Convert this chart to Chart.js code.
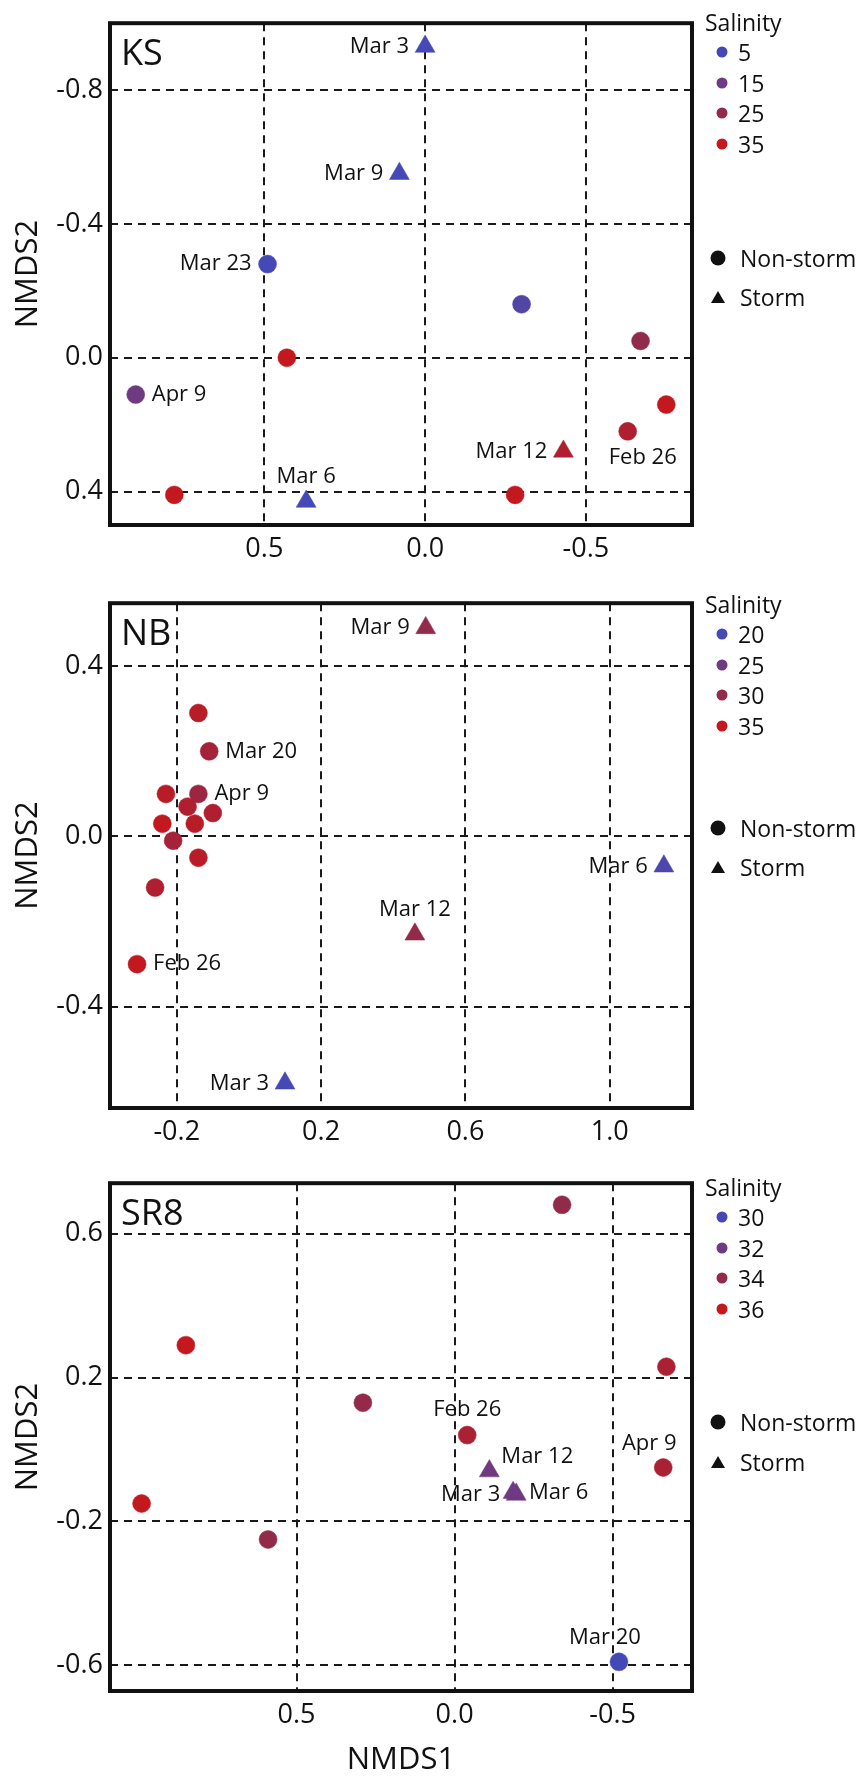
<!DOCTYPE html>
<html>
<head>
<meta charset="utf-8">
<title>NMDS - KS, NB, SR8</title>
<script src="https://cdn.jsdelivr.net/npm/chart.js@4.4.1/dist/chart.umd.min.js"></script>
<style>
  html, body { margin: 0; padding: 0; background: #fff; }
  #page { position: relative; width: 861px; height: 1779px; font-family: "Open Sans", sans-serif; color: #111; }
  .panel { position: absolute; left: 0; width: 861px; }
  .panel canvas { position: absolute; left: 0; top: 0; }
  .row { position: absolute; white-space: nowrap; font-size: 23px; line-height: 1; transform: translateY(-50%); }
  .dot { position: absolute; width: 11px; height: 11px; border-radius: 50%; transform: translate(-50%, -50%); }
  .sym { position: absolute; transform: translate(-50%, -50%); }
</style>
</head>
<body>
<div id="page">
  <div class="panel" id="ks-panel" style="top:0px;height:580px"><canvas id="ks" width="861" height="580"></canvas></div>
  <div class="panel" id="nb-panel" style="top:580px;height:580px"><canvas id="nb" width="861" height="580"></canvas></div>
  <div class="panel" id="sr-panel" style="top:1160px;height:619px"><canvas id="sr" width="861" height="619"></canvas></div>
</div>
<script>
// ---- KS ----
const ksDates    = ['Mar 3', 'Mar 9', 'Mar 23', '', '', 'Apr 9', 'Mar 12', 'Mar 6', '', '', '', '', 'Feb 26'];
const ksX        = [0.00, 0.08, 0.49, -0.30, 0.43, 0.90, -0.43, 0.37, 0.78, -0.28, -0.67, -0.75, -0.63];
const ksY        = [-0.93, -0.55, -0.28, -0.16, 0.00, 0.11, 0.28, 0.43, 0.41, 0.41, -0.05, 0.14, 0.22];
const ksSalinity = [5, 5, 5, 8, 35, 15, 31, 5, 35, 35, 25, 35, 31];
const ksStorm    = [1, 1, 0, 0, 0, 0, 1, 1, 0, 0, 0, 0, 0];
const ksLegend   = [5, 15, 25, 35];
const ksXTicks   = [0.5, 0.0, -0.5];
const ksYTicks   = [-0.8, -0.4, 0.0, 0.4];

// ---- NB ----
const nbDates    = ['Mar 9', '', 'Mar 20', 'Apr 9', '', '', '', '', '', '', '', '', 'Feb 26', 'Mar 12', 'Mar 3', 'Mar 6'];
const nbX        = [0.49, -0.14, -0.11, -0.14, -0.23, -0.17, -0.10, -0.15, -0.24, -0.21, -0.14, -0.26, -0.31, 0.46, 0.10, 1.15];
const nbY        = [0.49, 0.29, 0.20, 0.10, 0.10, 0.07, 0.055, 0.03, 0.03, -0.01, -0.05, -0.12, -0.30, -0.23, -0.58, -0.07];
const nbSalinity = [30, 34, 32, 31, 34, 33, 33, 34, 35, 32, 34, 33, 35, 30, 20, 21];
const nbStorm    = [1, 0, 0, 0, 0, 0, 0, 0, 0, 0, 0, 0, 0, 1, 1, 1];
const nbLegend   = [20, 25, 30, 35];
const nbXTicks   = [-0.2, 0.2, 0.6, 1.0];
const nbYTicks   = [0.4, 0.0, -0.4];

// ---- SR8 ----
const srDates    = ['', '', 'Feb 26', 'Mar 12', 'Mar 3', 'Mar 6', 'Apr 9', '', '', '', '', 'Mar 20'];
const srX        = [-0.34, -0.67, -0.04, -0.11, -0.195, -0.185, -0.66, 0.85, 0.29, 0.99, 0.59, -0.52];
const srY        = [0.68, 0.23, 0.04, -0.06, -0.125, -0.12, -0.05, 0.29, 0.13, -0.15, -0.25, -0.59];
const srSalinity = [34, 35, 35, 32, 32, 32, 35, 36, 34, 36, 34, 30];
const srStorm    = [0, 0, 0, 1, 1, 1, 0, 0, 0, 0, 0, 0];
const srLegend   = [30, 32, 34, 36];
const srXTicks   = [0.5, 0.0, -0.5];
const srYTicks   = [0.6, 0.2, -0.2, -0.6];

// label placement next to each point (style only)
const ksSides = ['left', 'left', 'left', '', '', 'right', 'left', 'above', '', '', '', '', 'belowRight'];
const nbSides = ['left', '', 'right', 'right', '', '', '', '', '', '', '', '', 'right', 'above', 'left', 'left'];
const srSides = ['', '', 'above', 'upRight', 'left', 'right', 'aboveLeft', '', '', '', '', 'aboveLeft'];

const stopColors = ['#4549b5', '#6e3a82', '#922a4a', '#c2181e'];
const FONT = '"Open Sans", sans-serif';

function hexToRgb(h) {
  return [1, 3, 5].map(i => parseInt(h.substr(i, 2), 16));
}

/**
 * Colore del punto interpolato tra i colori della legenda
 */
function salinityColor(s, stops) {
  if (s <= stops[0]) return stopColors[0];
  for (let i = 1; i < stops.length; i++) {
    if (s <= stops[i]) {
      const t = (s - stops[i - 1]) / (stops[i] - stops[i - 1]);
      const a = hexToRgb(stopColors[i - 1]);
      const b = hexToRgb(stopColors[i]);
      const c = a.map((v, k) => Math.round(v + (b[k] - v) * t));
      return `rgb(${c[0]}, ${c[1]}, ${c[2]})`;
    }
  }
  return stopColors[stopColors.length - 1];
}

function labelSpot(side, px, py) {
  switch (side) {
    case 'left': return { x: px - 16, y: py, align: 'right' };
    case 'right': return { x: px + 16, y: py, align: 'left' };
    case 'above': return { x: px, y: py - 25, align: 'center' };
    case 'aboveLeft': return { x: px - 14, y: py - 24, align: 'center' };
    case 'belowRight': return { x: px + 15, y: py + 26, align: 'center' };
    case 'upRight': return { x: px + 12, y: py - 14, align: 'left' };
  }
  return null;
}

/**
 * Legenda HTML a destra del riquadro
 */
function buildLegend(panelId, values, frameTop, shapeRows) {
  const panel = document.getElementById(panelId);
  const add = (html) => panel.insertAdjacentHTML('beforeend', html);
  add(`<div class="row" style="left:705px;top:${frameTop + 12}px">Salinity</div>`);
  values.forEach((v, i) => {
    const y = frameTop + 42 + 30.5 * i;
    add(`<div class="dot" style="left:722px;top:${y}px;background:${stopColors[i]}"></div>`);
    add(`<div class="row" style="left:738px;top:${y}px">${v}</div>`);
  });
  add(`<svg class="sym" width="16" height="16" style="left:718px;top:${frameTop + shapeRows[0]}px"><circle cx="8" cy="8" r="7.5" fill="#111"/></svg>`);
  add(`<div class="row" style="left:740px;top:${frameTop + shapeRows[0]}px">Non-storm</div>`);
  add(`<svg class="sym" width="16" height="14" style="left:718px;top:${frameTop + shapeRows[1]}px"><polygon points="8,1 15,13 1,13" fill="#111"/></svg>`);
  add(`<div class="row" style="left:740px;top:${frameTop + shapeRows[1]}px">Storm</div>`);
}

/**
 * Crea uno dei tre pannelli NMDS
 */
function renderPanel(p) {
  const ctx = document.getElementById(p.canvasId).getContext('2d');
  const colors = p.sal.map(s => salinityColor(s, p.stops));

  const panelPlugin = {
    id: 'panelDecor_' + p.canvasId,
    afterDatasetsDraw(chart) {
      const c = chart.ctx;
      const meta = chart.getDatasetMeta(0);
      c.save();
      c.fillStyle = '#111';
      c.font = `22px ${FONT}`;
      c.textBaseline = 'middle';
      meta.data.forEach((pt, i) => {
        if (!p.dates[i]) return;
        const spot = labelSpot(p.sides[i], pt.x, pt.y);
        if (!spot) return;
        c.textAlign = spot.align;
        c.fillText(p.dates[i], spot.x, spot.y);
      });
      c.restore();
    },
    afterDraw(chart) {
      const c = chart.ctx;
      const a = chart.chartArea;
      c.save();
      c.strokeStyle = '#111';
      c.lineWidth = 4;
      c.strokeRect(a.left, a.top, a.right - a.left, a.bottom - a.top);
      c.fillStyle = '#111';
      c.font = `36px ${FONT}`;
      c.textAlign = 'left';
      c.textBaseline = 'alphabetic';
      c.fillText(p.name, a.left + 11, a.top + 42);
      c.restore();
    }
  };

  const tickFont = { family: FONT, size: 27 };

  return new Chart(ctx, {
    type: 'scatter',
    data: {
      datasets: [{
        data: p.xs.map((x, i) => ({ x: x, y: p.ys[i] })),
        pointStyle: p.storm.map(s => (s ? 'triangle' : 'circle')),
        pointRadius: p.storm.map(s => (s ? 11.5 : 9)),
        pointBackgroundColor: colors,
        pointBorderColor: colors,
        pointBorderWidth: 0.5,
        clip: false
      }]
    },
    options: {
      responsive: false,
      animation: false,
      layout: { padding: { top: p.padTop, right: 169, left: 0, bottom: 0 } },
      plugins: {
        legend: { display: false },
        tooltip: { enabled: false }
      },
      scales: {
        x: {
          type: 'linear',
          min: p.xMin,
          max: p.xMax,
          reverse: p.xRev,
          afterBuildTicks: axis => { axis.ticks = p.xTicks.map(v => ({ value: v })); },
          afterFit: s => { s.height = p.axisHeight; },
          grid: { color: '#1a1a1a', lineWidth: 2, drawTicks: false },
          border: { display: false, dash: [8, 6] },
          ticks: {
            color: '#111',
            font: tickFont,
            padding: 8,
            autoSkip: false,
            maxRotation: 0,
            callback: v => v.toFixed(1)
          },
          title: {
            display: !!p.xTitle,
            text: p.xTitle || '',
            color: '#111',
            font: { family: FONT, size: 31 },
            padding: { top: 0, bottom: 0 }
          }
        },
        y: {
          type: 'linear',
          min: p.yMin,
          max: p.yMax,
          reverse: p.yRev,
          afterBuildTicks: axis => { axis.ticks = p.yTicks.map(v => ({ value: v })); },
          afterFit: s => { s.width = 110; },
          grid: { color: '#1a1a1a', lineWidth: 2, drawTicks: false },
          border: { display: false, dash: [8, 6] },
          ticks: {
            color: '#111',
            font: tickFont,
            padding: 7,
            autoSkip: false,
            callback: v => v.toFixed(1)
          },
          title: {
            display: true,
            text: 'NMDS2',
            color: '#111',
            font: { family: FONT, size: 31 },
            padding: { top: 10, bottom: 0 }
          }
        }
      }
    },
    plugins: [panelPlugin]
  });
}

renderPanel({
  canvasId: 'ks', name: 'KS',
  xs: ksX, ys: ksY, sal: ksSalinity, storm: ksStorm, dates: ksDates, sides: ksSides, stops: ksLegend,
  xMin: -0.83, xMax: 0.98, xRev: true, yMin: -1.0, yMax: 0.5, yRev: true,
  xTicks: ksXTicks, yTicks: ksYTicks, padTop: 10, axisHeight: 55
});
renderPanel({
  canvasId: 'nb', name: 'NB',
  xs: nbX, ys: nbY, sal: nbSalinity, storm: nbStorm, dates: nbDates, sides: nbSides, stops: nbLegend,
  xMin: -0.385, xMax: 1.228, xRev: false, yMin: -0.638, yMax: 0.548, yRev: false,
  xTicks: nbXTicks, yTicks: nbYTicks, padTop: 12, axisHeight: 52
});
renderPanel({
  canvasId: 'sr', name: 'SR8',
  xs: srX, ys: srY, sal: srSalinity, storm: srStorm, dates: srDates, sides: srSides, stops: srLegend,
  xMin: -0.751, xMax: 1.09, xRev: true, yMin: -0.671, yMax: 0.74, yRev: false,
  xTicks: srXTicks, yTicks: srYTicks, padTop: 15, axisHeight: 88, xTitle: 'NMDS1'
});

buildLegend('ks-panel', ksLegend, 10, [248, 287]);
buildLegend('nb-panel', nbLegend, 12, [236, 275]);
buildLegend('sr-panel', srLegend, 15, [247, 287]);
</script>
</body>
</html>
